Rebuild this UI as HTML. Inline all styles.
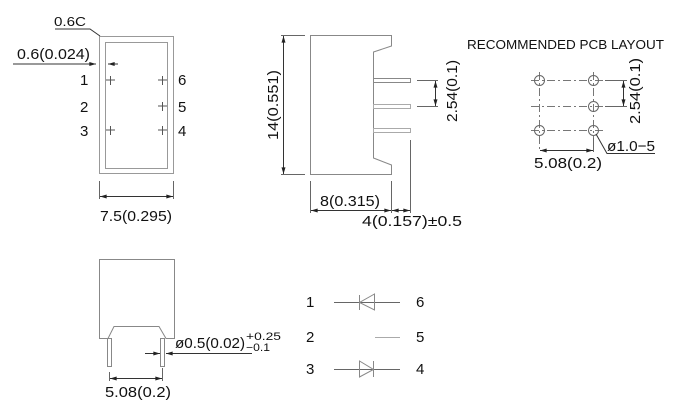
<!DOCTYPE html>
<html><head><meta charset="utf-8"><style>
html,body{margin:0;padding:0;background:#fff;overflow:hidden;}
svg{display:block;}
text{font-family:"Liberation Sans",sans-serif;font-size:15px;fill:#111;}
</style></head><body>
<svg width="682" height="419" viewBox="0 0 682 419" xmlns="http://www.w3.org/2000/svg">
<defs>
<marker id="a" viewBox="0 0 10 6" refX="10" refY="3" markerWidth="7" markerHeight="4" orient="auto-start-reverse" markerUnits="userSpaceOnUse"><path d="M0,0L10,3L0,6z" fill="#222"/></marker>
</defs>
<g stroke="#666" stroke-width="1" fill="none">
<rect x="99.5" y="36.5" width="74" height="137" stroke="#999"/>
<rect x="105.5" y="42.5" width="62" height="126" stroke="#999"/>
<polyline points="55,29 90,29 100,36" stroke="#333"/>
<line x1="13" y1="64" x2="96" y2="64" marker-end="url(#a)" stroke="#333"/>
<line x1="118" y1="64" x2="108" y2="64" marker-end="url(#a)" stroke="#333"/>
<path d="M106,80h9M110.5,76v9M158,80h9M162.5,76v9M158,106h9M162.5,102v9M106,130h9M110.5,126v9M158,130h9M162.5,126v9" stroke="#555"/>
<line x1="99.5" y1="181" x2="99.5" y2="199"/><line x1="173.5" y1="181" x2="173.5" y2="199"/>
<line x1="100" y1="196.5" x2="173" y2="196.5" marker-start="url(#a)" marker-end="url(#a)" stroke="#333"/>
<path d="M310.5,35.5H391.5V46L373.5,52V158L391.5,165V174.5H310.5Z" stroke="#888"/>
<rect x="373.5" y="78.5" width="37" height="4" stroke="#888"/>
<rect x="373.5" y="104.5" width="37" height="4" stroke="#aaa"/>
<rect x="373.5" y="128.5" width="37" height="4" stroke="#aaa"/>
<line x1="410.5" y1="140" x2="410.5" y2="213"/>
<line x1="417" y1="80.5" x2="438" y2="80.5"/><line x1="417" y1="106.5" x2="438" y2="106.5"/>
<line x1="435.5" y1="81" x2="435.5" y2="106" marker-start="url(#a)" marker-end="url(#a)" stroke="#333"/>
<line x1="281" y1="35.5" x2="305" y2="35.5"/><line x1="281" y1="174.5" x2="305" y2="174.5"/>
<line x1="283.5" y1="36" x2="283.5" y2="174" marker-start="url(#a)" marker-end="url(#a)" stroke="#333"/>
<line x1="310.5" y1="181" x2="310.5" y2="213"/><line x1="391.5" y1="181" x2="391.5" y2="213"/>
<line x1="311" y1="210.5" x2="391" y2="210.5" marker-start="url(#a)" marker-end="url(#a)" stroke="#333"/>
<line x1="392" y1="210.5" x2="410" y2="210.5" marker-start="url(#a)" marker-end="url(#a)" stroke="#333"/>
<g stroke="#777" stroke-dasharray="8,3,2,3">
<line x1="531" y1="80.5" x2="605" y2="80.5"/><line x1="531" y1="106.5" x2="605" y2="106.5"/><line x1="531" y1="130.5" x2="605" y2="130.5"/>
<line x1="539.5" y1="72" x2="539.5" y2="150"/><line x1="593.5" y1="72" x2="593.5" y2="140"/>
</g>
<circle cx="539.5" cy="80.5" r="5"/><circle cx="593.5" cy="80.5" r="5"/><circle cx="593.5" cy="106.5" r="5"/>
<circle cx="539.5" cy="130.5" r="5"/><circle cx="593.5" cy="130.5" r="5"/>
<line x1="605" y1="80.5" x2="627" y2="80.5"/><line x1="605" y1="106.5" x2="627" y2="106.5"/>
<line x1="623.5" y1="81" x2="623.5" y2="106" marker-start="url(#a)" marker-end="url(#a)" stroke="#333"/>
<line x1="540" y1="150.5" x2="593" y2="150.5" marker-start="url(#a)" marker-end="url(#a)" stroke="#333"/>
<line x1="593.5" y1="138" x2="593.5" y2="152"/>
<polyline points="596,134 607,153.5 655,153.5" stroke="#333"/>
<path d="M99.5,259.5H174.5V338.5H166L159,326.5H114L108,338.5H99.5Z" stroke="#888"/>
<rect x="107.5" y="338.5" width="4" height="28" stroke="#888"/>
<rect x="160.5" y="338.5" width="4" height="28" stroke="#888"/>
<line x1="145" y1="353.5" x2="160" y2="353.5" marker-end="url(#a)" stroke="#333"/>
<line x1="252" y1="353.5" x2="166" y2="353.5" marker-end="url(#a)" stroke="#333"/>
<line x1="110" y1="378.5" x2="162" y2="378.5" marker-start="url(#a)" marker-end="url(#a)" stroke="#333"/>
<line x1="162.5" y1="368" x2="162.5" y2="381"/><line x1="109.5" y1="372" x2="109.5" y2="381"/>
<line x1="334" y1="302.5" x2="400" y2="302.5"/>
<path d="M359.5,295V310M374.5,294L359.5,302.5L374.5,310Z" stroke="#888"/>
<line x1="375" y1="337.5" x2="400" y2="337.5" stroke="#aaa"/>
<line x1="334" y1="369.5" x2="400" y2="369.5"/>
<path d="M359.5,361L373.5,369.5L359.5,377ZM373.5,361V377" stroke="#888"/>
</g>
<text x="54" y="26" textLength="32" lengthAdjust="spacingAndGlyphs" style="font-size:13px">0.6C</text>
<text x="17" y="59" textLength="73" lengthAdjust="spacingAndGlyphs">0.6(0.024)</text>
<text x="80" y="85">1</text><text x="80" y="112">2</text><text x="80" y="136">3</text>
<text x="178" y="85">6</text><text x="178" y="112">5</text><text x="178" y="136">4</text>
<text x="100" y="221" textLength="72" lengthAdjust="spacingAndGlyphs">7.5(0.295)</text>
<text x="320" y="206" textLength="60" lengthAdjust="spacingAndGlyphs">8(0.315)</text>
<text x="362" y="226" textLength="100" lengthAdjust="spacingAndGlyphs">4(0.157)±0.5</text>
<text x="467" y="49" textLength="197" lengthAdjust="spacingAndGlyphs" style="font-size:12.5px">RECOMMENDED  PCB  LAYOUT</text>
<text x="534" y="168" textLength="68" lengthAdjust="spacingAndGlyphs">5.08(0.2)</text>
<text x="607" y="151" textLength="48" lengthAdjust="spacingAndGlyphs">ø1.0−5</text>
<text x="105" y="397" textLength="66" lengthAdjust="spacingAndGlyphs">5.08(0.2)</text>
<text x="175" y="348" textLength="70" lengthAdjust="spacingAndGlyphs">ø0.5(0.02)</text>
<text x="246" y="340" textLength="35" lengthAdjust="spacingAndGlyphs" style="font-size:11px">+0.25</text>
<text x="246" y="351" textLength="24" lengthAdjust="spacingAndGlyphs" style="font-size:11px">−0.1</text>
<text x="306" y="307">1</text><text x="306" y="342">2</text><text x="306" y="374">3</text>
<text x="416" y="307">6</text><text x="416" y="342">5</text><text x="416" y="374">4</text>
<text transform="translate(278,140) rotate(-90)" textLength="70" lengthAdjust="spacingAndGlyphs">14(0.551)</text>
<text transform="translate(457,122) rotate(-90)" textLength="62" lengthAdjust="spacingAndGlyphs">2.54(0.1)</text>
<text transform="translate(640,124) rotate(-90)" textLength="66" lengthAdjust="spacingAndGlyphs">2.54(0.1)</text>
</svg>
</body></html>
